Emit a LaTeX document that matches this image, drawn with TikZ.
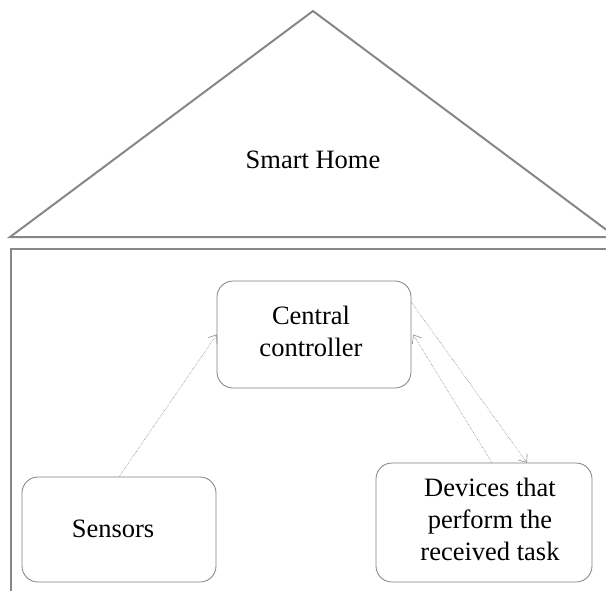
\documentclass[tikz,border=0pt]{standalone}
\usepackage{fontspec}
\setmainfont{Liberation Serif}
\usetikzlibrary{arrows.meta}
\begin{document}
\begin{tikzpicture}[x=1pt,y=-1pt,
  wall/.style={draw=black!47, line width=2pt},
  unit/.style={draw=black!50, line width=0.8pt, rounded corners=16pt},
  caption/.style={font=\fontsize{26.5}{32}\selectfont, align=center, inner sep=0pt},
  flow/.style={draw=black!45, line width=0.6pt, densely dotted,
    -{Straight Barb[length=7pt,width=11pt,line width=0.6pt]}}]
  \useasboundingbox (0,0) rectangle (606,590);
  \begin{scope}
    \clip (0,0) rectangle (606,590);
    % roof and walls of the house
    \draw[wall, line join=miter] (10,237) -- (313,11) -- (616,237) -- cycle;
    \draw[wall] (11,600) -- (11,249) -- (630,249);
  \end{scope}
  \node[caption] (title) at (313,160) {Smart Home};

  % component boxes
  \draw[unit] (217,281) rectangle (411,388);
  \node[minimum width=194pt, minimum height=107pt, inner sep=0pt] (ctrl) at (314,334.5) {};
  \node[caption] (ctrltext) at (311,331) {Central\\controller};

  \draw[unit] (22,477) rectangle (216,582);
  \node[minimum width=194pt, minimum height=105pt, inner sep=0pt] (sensors) at (119,529.5) {};
  \node[caption] (sensorstext) at (113,529) {Sensors};

  \draw[unit] (376,463) rectangle (592,582);
  \node[minimum width=216pt, minimum height=119pt, inner sep=0pt] (dev) at (484,522.5) {};
  \node[caption] (devtext) at (490,519) {Devices that\\perform the\\received task};

  % data flow
  \draw[flow] (sensors.north) -- (ctrl.west);
  \draw[flow] ([yshift=32.5pt]ctrl.east) -- ([xshift=43pt]dev.north);
  \draw[flow] ([xshift=8pt]dev.north) -- ([xshift=2pt]ctrl.east);
\end{tikzpicture}
\end{document}
